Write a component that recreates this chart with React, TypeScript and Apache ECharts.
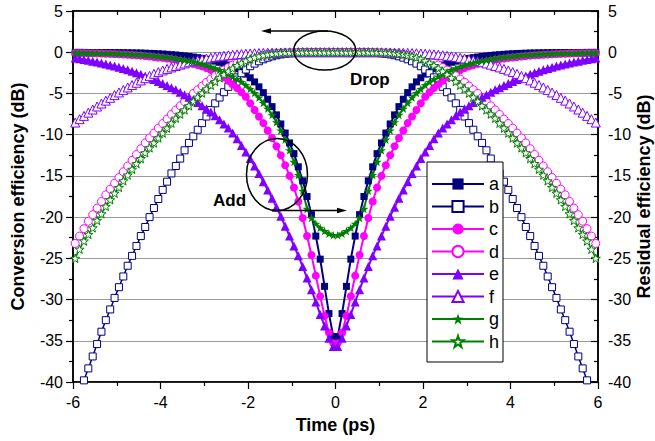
import React, { useEffect, useRef } from 'react';
import * as echarts from 'echarts';

// Time grid (ps)
const TIME = [
  -5.95, -5.85, -5.75, -5.65, -5.55, -5.45, -5.35, -5.25, -5.15, -5.05,
  -4.95, -4.85, -4.75, -4.65, -4.55, -4.45, -4.35, -4.25, -4.15, -4.05,
  -3.95, -3.85, -3.75, -3.65, -3.55, -3.45, -3.35, -3.25, -3.15, -3.05,
  -2.95, -2.85, -2.75, -2.65, -2.55, -2.45, -2.35, -2.25, -2.15, -2.05,
  -1.95, -1.85, -1.75, -1.65, -1.55, -1.45, -1.35, -1.25, -1.15, -1.05,
  -0.95, -0.85, -0.75, -0.65, -0.55, -0.45, -0.35, -0.25, -0.15, -0.05,
  0.05, 0.15, 0.25, 0.35, 0.45, 0.55, 0.65, 0.75, 0.85, 0.95,
  1.05, 1.15, 1.25, 1.35, 1.45, 1.55, 1.65, 1.75, 1.85, 1.95,
  2.05, 2.15, 2.25, 2.35, 2.45, 2.55, 2.65, 2.75, 2.85, 2.95,
  3.05, 3.15, 3.25, 3.35, 3.45, 3.55, 3.65, 3.75, 3.85, 3.95,
  4.05, 4.15, 4.25, 4.35, 4.45, 4.55, 4.65, 4.75, 4.85, 4.95,
  5.05, 5.15, 5.25, 5.35, 5.45, 5.55, 5.65, 5.75, 5.85, 5.95,
];

const SERIES_A = [
  -0.02, -0.02, -0.02, -0.03, -0.03, -0.03, -0.04, -0.04, -0.04, -0.05,
  -0.05, -0.06, -0.07, -0.08, -0.09, -0.1, -0.12, -0.14, -0.16, -0.19,
  -0.22, -0.26, -0.3, -0.34, -0.39, -0.45, -0.51, -0.58, -0.66, -0.75,
  -0.85, -0.96, -1.08, -1.22, -1.37, -1.55, -1.75, -2.0, -2.3, -2.65,
  -3.1, -3.6, -4.2, -4.9, -5.7, -6.6, -7.6, -8.7, -9.8, -11.0,
  -12.3, -13.9, -15.6, -17.5, -19.7, -22.3, -25.1, -28.4, -31.7, -34.5,
  -34.5, -31.7, -28.4, -25.1, -22.3, -19.7, -17.5, -15.6, -13.9, -12.3,
  -11.0, -9.8, -8.7, -7.6, -6.6, -5.7, -4.9, -4.2, -3.6, -3.1,
  -2.65, -2.3, -2.0, -1.75, -1.55, -1.37, -1.22, -1.08, -0.96, -0.85,
  -0.75, -0.66, -0.58, -0.51, -0.45, -0.39, -0.34, -0.3, -0.26, -0.22,
  -0.19, -0.16, -0.14, -0.12, -0.1, -0.09, -0.08, -0.07, -0.06, -0.05,
  -0.05, -0.04, -0.04, -0.04, -0.03, -0.03, -0.03, -0.02, -0.02, -0.02,
];

const SERIES_B = [
  -42.6, -41.2, -39.8, -38.35, -36.9, -35.4, -33.9, -32.5, -31.2, -29.8,
  -28.5, -27.2, -25.9, -24.7, -23.5, -22.3, -21.2, -20.0, -18.9, -17.8,
  -16.7, -15.7, -14.7, -13.8, -12.9, -11.9, -11.0, -10.2, -9.4, -8.6,
  -7.8, -7.0, -6.2, -5.5, -4.85, -4.2, -3.6, -3.05, -2.55, -2.1,
  -1.7, -1.38, -1.1, -0.86, -0.66, -0.5, -0.37, -0.27, -0.19, -0.13,
  -0.09, -0.06, -0.04, -0.02, -0.01, 0, 0, 0, 0, 0,
  0, 0, 0, 0, 0, -0.01, -0.02, -0.04, -0.06, -0.09,
  -0.13, -0.19, -0.27, -0.37, -0.5, -0.66, -0.86, -1.1, -1.38, -1.7,
  -2.1, -2.55, -3.05, -3.6, -4.2, -4.85, -5.5, -6.2, -7.0, -7.8,
  -8.6, -9.4, -10.2, -11.0, -11.9, -12.9, -13.8, -14.7, -15.7, -16.7,
  -17.8, -18.9, -20.0, -21.2, -22.3, -23.5, -24.7, -25.9, -27.2, -28.5,
  -29.8, -31.2, -32.5, -33.9, -35.4, -36.9, -38.35, -39.8, -41.2, -42.6,
];

const SERIES_C = [
  -0.1, -0.1, -0.11, -0.12, -0.13, -0.14, -0.16, -0.18, -0.2, -0.22,
  -0.24, -0.27, -0.3, -0.33, -0.37, -0.41, -0.46, -0.51, -0.57, -0.63,
  -0.69, -0.76, -0.84, -0.93, -1.03, -1.14, -1.26, -1.4, -1.55, -1.72,
  -1.92, -2.15, -2.42, -2.72, -3.05, -3.45, -3.9, -4.35, -4.85, -5.4,
  -6.2, -7.0, -7.8, -8.6, -9.5, -10.4, -11.4, -12.5, -13.7, -15.0,
  -16.4, -18.1, -20.1, -22.3, -24.6, -27.1, -29.6, -32.0, -34.0, -35.3,
  -35.3, -34.0, -32.0, -29.6, -27.1, -24.6, -22.3, -20.1, -18.1, -16.4,
  -15.0, -13.7, -12.5, -11.4, -10.4, -9.5, -8.6, -7.8, -7.0, -6.2,
  -5.4, -4.85, -4.35, -3.9, -3.45, -3.05, -2.72, -2.42, -2.15, -1.92,
  -1.72, -1.55, -1.4, -1.26, -1.14, -1.03, -0.93, -0.84, -0.76, -0.69,
  -0.63, -0.57, -0.51, -0.46, -0.41, -0.37, -0.33, -0.3, -0.27, -0.24,
  -0.22, -0.2, -0.18, -0.16, -0.14, -0.13, -0.12, -0.11, -0.1, -0.1,
];

const SERIES_D = [
  -23.2, -22.3, -21.4, -20.5, -19.7, -18.9, -18.1, -17.3, -16.6, -15.9,
  -15.2, -14.5, -13.8, -13.1, -12.4, -11.7, -11.0, -10.4, -9.8, -9.2,
  -8.65, -8.1, -7.55, -7.0, -6.5, -6.0, -5.5, -5.0, -4.55, -4.1,
  -3.65, -3.25, -2.85, -2.5, -2.15, -1.85, -1.55, -1.3, -1.08, -0.88,
  -0.7, -0.55, -0.43, -0.33, -0.25, -0.18, -0.13, -0.09, -0.06, -0.04,
  -0.02, -0.01, 0, 0, 0, 0, 0, 0, 0, 0,
  0, 0, 0, 0, 0, 0, 0, 0, -0.01, -0.02,
  -0.04, -0.06, -0.09, -0.13, -0.18, -0.25, -0.33, -0.43, -0.55, -0.7,
  -0.88, -1.08, -1.3, -1.55, -1.85, -2.15, -2.5, -2.85, -3.25, -3.65,
  -4.1, -4.55, -5.0, -5.5, -6.0, -6.5, -7.0, -7.55, -8.1, -8.65,
  -9.2, -9.8, -10.4, -11.0, -11.7, -12.4, -13.1, -13.8, -14.5, -15.2,
  -15.9, -16.6, -17.3, -18.1, -18.9, -19.7, -20.5, -21.4, -22.3, -23.2,
];

const SERIES_E = [
  -0.7, -0.79, -0.88, -0.98, -1.08, -1.19, -1.3, -1.42, -1.55, -1.68,
  -1.82, -1.97, -2.13, -2.3, -2.48, -2.67, -2.87, -3.08, -3.3, -3.55,
  -3.8, -4.05, -4.3, -4.55, -4.85, -5.15, -5.45, -5.75, -6.1, -6.5,
  -6.85, -7.25, -7.7, -8.2, -8.7, -9.2, -9.8, -10.5, -11.3, -12.1,
  -12.9, -13.8, -14.7, -15.7, -16.7, -17.7, -18.8, -19.9, -21.1, -22.3,
  -23.5, -24.7, -26.0, -27.4, -28.8, -30.3, -31.8, -33.2, -34.7, -35.7,
  -35.7, -34.7, -33.2, -31.8, -30.3, -28.8, -27.4, -26.0, -24.7, -23.5,
  -22.3, -21.1, -19.9, -18.8, -17.7, -16.7, -15.7, -14.7, -13.8, -12.9,
  -12.1, -11.3, -10.5, -9.8, -9.2, -8.7, -8.2, -7.7, -7.25, -6.85,
  -6.5, -6.1, -5.75, -5.45, -5.15, -4.85, -4.55, -4.3, -4.05, -3.8,
  -3.55, -3.3, -3.08, -2.87, -2.67, -2.48, -2.3, -2.13, -1.97, -1.82,
  -1.68, -1.55, -1.42, -1.3, -1.19, -1.08, -0.98, -0.88, -0.79, -0.7,
];

const SERIES_F = [
  -8.53, -8.12, -7.72, -7.33, -6.95, -6.58, -6.22, -5.87, -5.53, -5.2,
  -4.88, -4.57, -4.27, -3.98, -3.7, -3.42, -3.15, -2.87, -2.62, -2.41,
  -2.21, -2.02, -1.84, -1.67, -1.51, -1.36, -1.22, -1.09, -0.97, -0.86,
  -0.76, -0.67, -0.58, -0.5, -0.43, -0.37, -0.31, -0.26, -0.22, -0.18,
  -0.15, -0.12, -0.1, -0.08, -0.06, -0.05, -0.04, -0.03, -0.02, -0.01,
  0, 0, 0, 0, 0, 0, 0, 0, 0, 0,
  0, 0, 0, 0, 0, 0, 0, 0, 0, 0,
  -0.01, -0.02, -0.03, -0.04, -0.05, -0.06, -0.08, -0.1, -0.12, -0.15,
  -0.18, -0.22, -0.26, -0.31, -0.37, -0.43, -0.5, -0.58, -0.67, -0.76,
  -0.86, -0.97, -1.09, -1.22, -1.36, -1.51, -1.67, -1.84, -2.02, -2.21,
  -2.41, -2.62, -2.87, -3.15, -3.42, -3.7, -3.98, -4.27, -4.57, -4.88,
  -5.2, -5.53, -5.87, -6.22, -6.58, -6.95, -7.33, -7.72, -8.12, -8.53,
];

const SERIES_G = [
  -0.05, -0.05, -0.06, -0.07, -0.08, -0.09, -0.1, -0.11, -0.12, -0.14,
  -0.16, -0.18, -0.2, -0.23, -0.26, -0.29, -0.33, -0.37, -0.42, -0.47,
  -0.53, -0.59, -0.66, -0.74, -0.83, -0.93, -1.03, -1.15, -1.28, -1.42,
  -1.58, -1.75, -1.95, -2.15, -2.4, -2.65, -2.95, -3.25, -3.6, -4.0,
  -4.45, -4.95, -5.5, -6.15, -6.85, -7.6, -8.5, -9.5, -10.6, -11.9,
  -13.3, -14.9, -16.8, -19.0, -20.1, -20.8, -21.3, -21.7, -22.0, -22.2,
  -22.2, -22.0, -21.7, -21.3, -20.8, -20.1, -19.0, -16.8, -14.9, -13.3,
  -11.9, -10.6, -9.5, -8.5, -7.6, -6.85, -6.15, -5.5, -4.95, -4.45,
  -4.0, -3.6, -3.25, -2.95, -2.65, -2.4, -2.15, -1.95, -1.75, -1.58,
  -1.42, -1.28, -1.15, -1.03, -0.93, -0.83, -0.74, -0.66, -0.59, -0.53,
  -0.47, -0.42, -0.37, -0.33, -0.29, -0.26, -0.23, -0.2, -0.18, -0.16,
  -0.14, -0.12, -0.11, -0.1, -0.09, -0.08, -0.07, -0.06, -0.05, -0.05,
];

const SERIES_H = [
  -25.0, -23.9, -22.9, -22.1, -21.3, -20.4, -19.6, -18.7, -17.9, -17.1,
  -16.4, -15.6, -14.9, -14.2, -13.5, -12.9, -12.2, -11.6, -11.0, -10.4,
  -9.8, -9.2, -8.6, -8.0, -7.5, -7.0, -6.5, -5.95, -5.45, -4.95,
  -4.45, -4.0, -3.55, -3.1, -2.7, -2.3, -1.95, -1.62, -1.32, -1.05,
  -0.82, -0.63, -0.48, -0.36, -0.26, -0.19, -0.13, -0.09, -0.06, -0.04,
  -0.02, -0.01, 0, 0, 0, 0, 0, 0, 0, 0,
  0, 0, 0, 0, 0, 0, 0, 0, -0.01, -0.02,
  -0.04, -0.06, -0.09, -0.13, -0.19, -0.26, -0.36, -0.48, -0.63, -0.82,
  -1.05, -1.32, -1.62, -1.95, -2.3, -2.7, -3.1, -3.55, -4.0, -4.45,
  -4.95, -5.45, -5.95, -6.5, -7.0, -7.5, -8.0, -8.6, -9.2, -9.8,
  -10.4, -11.0, -11.6, -12.2, -12.9, -13.5, -14.2, -14.9, -15.6, -16.4,
  -17.1, -17.9, -18.7, -19.6, -20.4, -21.3, -22.1, -22.9, -23.9, -25.0,
];

const X_TICKS = { min: -6, max: 6, interval: 2 };
const Y_TICKS = { min: -40, max: 5, interval: 5 };

const NAVY = '#000080';
const MAGENTA = '#ff00ff';
const PURPLE = '#8000ff';
const GREEN = '#008000';
const FONT = '"Liberation Sans", Arial, Helvetica, sans-serif';
const STAR =
  'path://M0,-10 L2.35,-3.24 L9.51,-3.09 L3.8,1.24 L5.88,8.09 L0,4 L-5.88,8.09 L-3.8,1.24 L-9.51,-3.09 L-2.35,-3.24 Z';

type Def = {
  name: string;
  values: number[];
  color: string;
  symbol: string;
  size: number;
  open: boolean;
  width: number;
};

const DEFS: Def[] = [
  { name: 'a', values: SERIES_A, color: NAVY, symbol: 'rect', size: 7, open: false, width: 2 },
  { name: 'b', values: SERIES_B, color: NAVY, symbol: 'rect', size: 7, open: true, width: 1.5 },
  { name: 'c', values: SERIES_C, color: MAGENTA, symbol: 'circle', size: 8, open: false, width: 2 },
  { name: 'd', values: SERIES_D, color: MAGENTA, symbol: 'circle', size: 8, open: true, width: 1.5 },
  { name: 'e', values: SERIES_E, color: PURPLE, symbol: 'triangle', size: 9, open: false, width: 2 },
  { name: 'f', values: SERIES_F, color: PURPLE, symbol: 'triangle', size: 9, open: true, width: 1.5 },
  { name: 'g', values: SERIES_G, color: GREEN, symbol: STAR, size: 9, open: false, width: 2 },
  { name: 'h', values: SERIES_H, color: GREEN, symbol: STAR, size: 9, open: true, width: 1.5 },
];

export default function App() {
  const ref = useRef<HTMLDivElement>(null);

  useEffect(() => {
    if (!ref.current) return;
    document.documentElement.style.overflow = 'hidden';
    document.body.style.margin = '0';
    document.body.style.overflow = 'hidden';
    const chart = echarts.init(ref.current, null, { renderer: 'svg', width: 655, height: 441 });

    const axisLine = { show: true, onZero: false, lineStyle: { color: '#000', width: 1.5 } };
    const labelStyle = { fontSize: 16, color: '#000', fontFamily: FONT };
    const nameStyle = { fontSize: 18, fontWeight: 'bold' as const, color: '#000', fontFamily: FONT };
    const tickLine = { color: '#000', width: 1.2 };

    const series = DEFS.map((d) => ({
      name: d.name,
      type: 'line',
      xAxisIndex: 0,
      yAxisIndex: 0,
      data: TIME.map((t, i) => [t, d.values[i]]),
      symbol: d.symbol,
      symbolSize: d.size,
      symbolKeepAspect: true,
      showSymbol: true,
      showAllSymbol: true,
      clip: true,
      lineStyle: { color: d.color, width: d.width },
      itemStyle: d.open
        ? { color: '#ffffff', borderColor: d.color, borderWidth: 1 }
        : { color: d.color, borderWidth: 0 },
      emphasis: { disabled: true },
      animation: false,
    }));

    const option = {
      animation: false,
      backgroundColor: '#ffffff',
      grid: {
        left: 73,
        right: 57,
        top: 11,
        bottom: 59,
        containLabel: false,
        outerBoundsMode: 'none',
        show: true,
        borderColor: '#000',
        borderWidth: 1.5,
        backgroundColor: 'transparent',
      },
      legend: {
        data: DEFS.map((d) => d.name),
        orient: 'vertical',
        left: 427,
        top: 162,
        itemWidth: 52,
        itemHeight: 14,
        itemGap: 4.5,
        itemTextGap: 4,
        padding: [13, 8, 11, 4],
        borderWidth: 0,
        selectedMode: false,
        z: 10,
        textStyle: { fontSize: 18, lineHeight: 18, color: '#000', fontFamily: FONT },
      },
      xAxis: [
        {
          type: 'value',
          position: 'bottom',
          ...X_TICKS,
          name: 'Time (ps)',
          nameLocation: 'middle',
          nameGap: 34,
          nameMoveOverlap: false,
          nameTextStyle: nameStyle,
          axisLine,
          axisTick: { show: true, inside: false, length: 7, lineStyle: tickLine },
          minorTick: { show: true, splitNumber: 2, length: 4, lineStyle: tickLine },
          axisLabel: { ...labelStyle, margin: 12 },
          splitLine: { show: false },
        },
        {
          type: 'value',
          position: 'top',
          ...X_TICKS,
          axisLine,
          axisTick: { show: true, inside: true, length: 7, lineStyle: tickLine },
          minorTick: { show: true, splitNumber: 2, length: 4, lineStyle: tickLine },
          axisLabel: { show: false },
          splitLine: { show: false },
        },
      ],
      yAxis: [
        {
          type: 'value',
          position: 'left',
          ...Y_TICKS,
          name: 'Conversion efficiency (dB)',
          nameLocation: 'middle',
          nameRotate: 90,
          nameGap: 46,
          nameMoveOverlap: false,
          nameTextStyle: nameStyle,
          axisLine,
          axisTick: { show: true, inside: false, length: 7, lineStyle: tickLine },
          minorTick: { show: true, splitNumber: 2, length: 4, lineStyle: tickLine },
          axisLabel: { ...labelStyle, margin: 10 },
          splitLine: { show: true, lineStyle: { color: '#9a9a9a', width: 1 } },
        },
        {
          type: 'value',
          position: 'right',
          ...Y_TICKS,
          name: 'Residual efficiency (dB)',
          nameLocation: 'middle',
          nameRotate: 90,
          nameGap: 37,
          nameMoveOverlap: false,
          nameTextStyle: nameStyle,
          axisLine,
          axisTick: { show: true, inside: true, length: 7, lineStyle: tickLine },
          minorTick: { show: true, splitNumber: 2, length: 4, lineStyle: tickLine },
          axisLabel: { ...labelStyle, margin: 10 },
          splitLine: { show: false },
        },
      ],
      series,
      graphic: [
        {
          type: 'rect',
          shape: { x: 427, y: 162, width: 76, height: 200 },
          style: { fill: '#ffffff', stroke: '#000', lineWidth: 1 },
          z: 5,
        },
        {
          type: 'ellipse',
          shape: { cx: 324.7, cy: 50.5, rx: 31, ry: 19.5 },
          style: { fill: 'none', stroke: '#000', lineWidth: 1.5 },
          z: 100,
        },
        {
          type: 'line',
          shape: { x1: 328, y1: 31, x2: 268, y2: 31 },
          style: { stroke: '#000', lineWidth: 1.5 },
          z: 100,
        },
        {
          type: 'polygon',
          shape: { points: [[261, 31], [271, 28.3], [271, 33.7]] },
          style: { fill: '#000' },
          z: 100,
        },
        {
          type: 'text',
          x: 350,
          y: 79,
          style: { text: 'Drop', fontSize: 17, fontWeight: 'bold', fontFamily: FONT, fill: '#000', verticalAlign: 'middle', align: 'left' },
          z: 100,
        },
        {
          type: 'ellipse',
          shape: { cx: 277, cy: 174.5, rx: 30.5, ry: 36 },
          style: { fill: 'none', stroke: '#000', lineWidth: 1.5 },
          z: 100,
        },
        {
          type: 'line',
          shape: { x1: 272, y1: 210.5, x2: 340, y2: 210.5 },
          style: { stroke: '#000', lineWidth: 1.5 },
          z: 100,
        },
        {
          type: 'polygon',
          shape: { points: [[347, 210.5], [337, 207.8], [337, 213.2]] },
          style: { fill: '#000' },
          z: 100,
        },
        {
          type: 'text',
          x: 213,
          y: 200,
          style: { text: 'Add', fontSize: 17, fontWeight: 'bold', fontFamily: FONT, fill: '#000', verticalAlign: 'middle', align: 'left' },
          z: 100,
        },
      ],
    };

    chart.setOption(option as any);
    return () => chart.dispose();
  }, []);

  return (
    <div
      ref={ref}
      style={{ position: 'absolute', left: 0, top: 0, width: 655, height: 441, background: '#fff' }}
    />
  );
}
